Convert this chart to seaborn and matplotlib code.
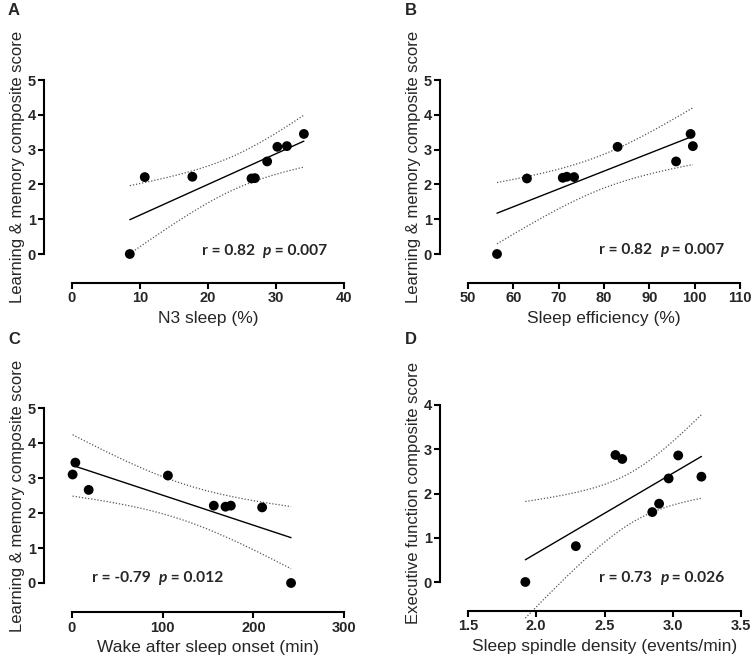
import numpy as np
import pandas as pd
import matplotlib
matplotlib.use("Agg")
import matplotlib.pyplot as plt
import seaborn as sns

# ---------------- data ----------------
n3_sleep = [8.5, 10.7, 17.7, 26.4, 26.9, 28.7, 30.2, 31.6, 34.1]
lm_score_a = [0.00, 2.21, 2.22, 2.17, 2.18, 2.66, 3.08, 3.10, 3.45]

sleep_eff = [56.4, 63.0, 70.9, 71.8, 73.4, 83.0, 95.9, 99.1, 99.6]
lm_score_b = [0.00, 2.17, 2.19, 2.22, 2.21, 3.08, 2.66, 3.45, 3.10]

waso = [3.7, 0.7, 18.4, 105.8, 156.4, 169.3, 175.2, 209.7, 241.6]
lm_score_c = [3.44, 3.10, 2.66, 3.07, 2.21, 2.18, 2.21, 2.16, 0.00]

spindle = [1.92, 2.29, 2.58, 2.63, 2.85, 2.90, 2.97, 3.04, 3.21]
ef_score = [0.00, 0.81, 2.87, 2.78, 1.58, 1.77, 2.34, 2.86, 2.38]

panel_letters = ["A", "B", "C", "D"]
x_labels = ["N3 sleep (%)", "Sleep efficiency (%)",
            "Wake after sleep onset (min)", "Sleep spindle density (events/min)"]
y_labels = ["Learning & memory composite score", "Learning & memory composite score",
            "Learning & memory composite score", "Executive function composite score"]
r_texts = ["r = 0.82", "r = 0.82", "r = -0.79", "r = 0.73"]
p_texts = ["0.007", "0.007", "0.012", "0.026"]

x_ticks = [[0, 10, 20, 30, 40], [50, 60, 70, 80, 90, 100, 110],
           [0, 100, 200, 300], [1.5, 2.0, 2.5, 3.0, 3.5]]
x_ticklabels = [["0", "10", "20", "30", "40"],
                ["50", "60", "70", "80", "90", "100", "110"],
                ["0", "100", "200", "300"],
                ["1.5", "2.0", "2.5", "3.0", "3.5"]]
y_ticks = [[0, 1, 2, 3, 4, 5]] * 3 + [[0, 1, 2, 3, 4]]
text_pos = [(19.1, 0.1), (78.9, 0.12), (22, 0.14), (2.46, 0.09)]

datasets = [(n3_sleep, lm_score_a), (sleep_eff, lm_score_b),
            (waso, lm_score_c), (spindle, ef_score)]

# ---------------- style ----------------
sns.set_style("white")
plt.rcParams["font.family"] = ["Liberation Sans", "DejaVu Sans"]

W, H = 755, 658
fig = plt.figure(figsize=(W / 100, H / 100), dpi=100)

# axes data rectangles in pixels: (x0, x1, y_top, y_bottom)
rects = [(72, 344, 80, 254), (468, 740, 80, 254),
         (72, 344, 408, 583), (468, 741, 405, 582)]


def t_crit(df):
    try:
        from scipy import stats
        return stats.t.ppf(0.975, df)
    except Exception:
        table = {5: 2.5706, 6: 2.4469, 7: 2.3646, 8: 2.3060, 9: 2.2622}
        return table.get(df, 2.3646)


for i, ((xs, ys), (x0, x1, yt, yb)) in enumerate(zip(datasets, rects)):
    ax = fig.add_axes([x0 / W, 1 - yb / H, (x1 - x0) / W, (yb - yt) / H])
    df = pd.DataFrame({"x": xs, "y": ys})
    sns.regplot(data=df, x="x", y="y", ax=ax, ci=None, truncate=True,
                scatter_kws=dict(s=50, color="black", alpha=1, clip_on=False,
                                 zorder=3, edgecolor="none"),
                line_kws=dict(color="black", lw=1.0))
    # 95% confidence band as dotted lines
    xa = np.asarray(xs, float)
    ya = np.asarray(ys, float)
    n = len(xa)
    b, a = np.polyfit(xa, ya, 1)
    resid = ya - (a + b * xa)
    s = np.sqrt(np.sum(resid ** 2) / (n - 2))
    sxx = np.sum((xa - xa.mean()) ** 2)
    xg = np.linspace(xa.min(), xa.max(), 200)
    yg = a + b * xg
    half = t_crit(n - 2) * s * np.sqrt(1 / n + (xg - xa.mean()) ** 2 / sxx)
    for sign in (1, -1):
        ax.plot(xg, yg + sign * half, color="#555555", lw=0.9, ls=(0, (1, 1.5)),
                clip_on=False)

    ax.set_xlim(x_ticks[i][0], x_ticks[i][-1])
    ax.set_ylim(y_ticks[i][0], y_ticks[i][-1])
    ax.set_xticks(x_ticks[i])
    ax.set_xticklabels(x_ticklabels[i])
    ax.set_yticks(y_ticks[i])
    for sp in ("top", "right"):
        ax.spines[sp].set_visible(False)
    for sp in ("left", "bottom"):
        ax.spines[sp].set_linewidth(1.5)
        ax.spines[sp].set_color("black")
    ax.spines["left"].set_position(("outward", 20))
    ax.spines["bottom"].set_position(("outward", 21))
    ax.tick_params(direction="out", length=4, width=1.5, color="black",
                   labelsize=10.5, pad=2, left=True, bottom=True)
    for lab in ax.get_xticklabels() + ax.get_yticklabels():
        lab.set_fontweight("bold")
    ax.set_xlabel(x_labels[i], fontsize=12.5, labelpad=4)
    ax.set_ylabel(y_labels[i], fontsize=12, labelpad=2)
    ax.patch.set_alpha(0)

    tx, ty = text_pos[i]
    fam = ["Lato", "DejaVu Sans"]
    t1 = ax.text(tx, ty, r_texts[i] + "  ", fontsize=11.2, fontweight="bold",
                 family=fam, va="center", ha="left")
    t2 = ax.annotate("p", xy=(1, 0), xycoords=t1, va="bottom", ha="left",
                     fontsize=11.2, fontweight="bold", fontstyle="italic",
                     family=fam)
    ax.annotate(" = " + p_texts[i], xy=(1, 0), xycoords=t2, va="bottom",
                ha="left", fontsize=11.2, fontweight="bold", family=fam)

letter_pos = [(8, 3), (405, 3), (8, 332), (405, 332)]
for L, (lx, ly) in zip(panel_letters, letter_pos):
    fig.text(lx / W, 1 - ly / H, L, fontsize=12, fontweight="bold",
             va="top", ha="left")

fig.savefig("out.png", dpi=100)
